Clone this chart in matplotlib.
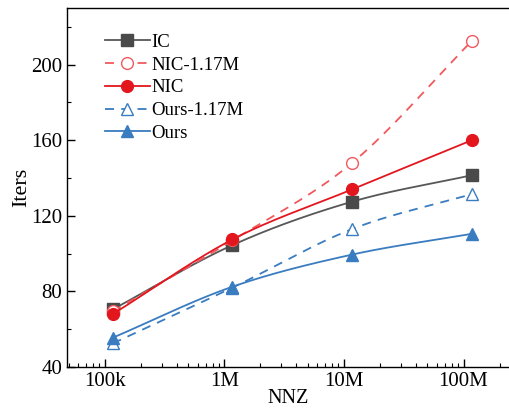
import matplotlib
matplotlib.use('Agg')
import matplotlib.pyplot as plt
import numpy as np
from matplotlib.ticker import FixedLocator, LogLocator, NullFormatter

plt.rcParams['font.family'] = ['Liberation Serif', 'DejaVu Serif']
plt.rcParams['font.size'] = 14

nnz = [1.17e5, 1.17e6, 1.17e7, 1.17e8]
xtick_vals = [1e5, 1e6, 1e7, 1e8]
xtick_labels = ['100k', '1M', '10M', '100M']

ic = [70.5, 104.5, 127.5, 141.5]
nic_117 = [69.5, 107.0, 148.0, 212.5]
nic = [68.0, 107.5, 134.0, 160.0]
ours_117 = [52.5, 82.0, 113.0, 131.5]
ours = [55.5, 82.5, 99.5, 110.5]


def smooth(x, y, n=60):
    # cubic hermite curve through the points, in log-x space
    lx = np.log10(x)
    y = np.asarray(y, float)
    m = np.gradient(y, lx)
    xs, ys = [], []
    for i in range(len(lx) - 1):
        h = lx[i + 1] - lx[i]
        t = np.linspace(0, 1, n)
        h00 = 2 * t**3 - 3 * t**2 + 1
        h10 = t**3 - 2 * t**2 + t
        h01 = -2 * t**3 + 3 * t**2
        h11 = t**3 - t**2
        xs.append(lx[i] + t * h)
        ys.append(h00 * y[i] + h10 * h * m[i] + h01 * y[i + 1] + h11 * h * m[i + 1])
    return 10 ** np.concatenate(xs), np.concatenate(ys)


fig = plt.figure(figsize=(5.09, 4.11), dpi=100)
ax = fig.add_axes([0.1316, 0.107, 0.8684, 0.8735])

series = [
    ('IC', ic, '#575757', '-', 's', '#4a4a4a', True),
    ('NIC-1.17M', nic_117, '#f05a5e', (0, (5, 4)), 'o', '#f05a5e', False),
    ('NIC', nic, '#e3161e', '-', 'o', '#e3161e', True),
    ('Ours-1.17M', ours_117, '#3a7cc0', (0, (5, 4)), '^', '#3a7cc0', False),
    ('Ours', ours, '#3a7cc0', '-', '^', '#3a7cc0', True),
]

for label, vals, col, ls, mk, mcol, filled in series:
    sx, sy = smooth(nnz, vals)
    ax.plot(sx, sy, color=col, ls=ls, lw=1.3)
    ax.plot(nnz, vals, ls='none', marker=mk, ms=8.5,
            mfc=mcol if filled else 'white', mec=mcol, mew=1.0)
    ax.plot([], [], color=col, ls=ls, lw=1.3, marker=mk, ms=8.5,
            mfc=mcol if filled else 'white', mec=mcol, mew=1.0, label=label)

ax.set_xscale('log')
ax.set_xlim(4.85e4, 2.4e8)
ax.set_ylim(40, 230)
ax.xaxis.set_major_locator(FixedLocator(xtick_vals))
ax.set_xticklabels(xtick_labels)
ax.xaxis.set_minor_locator(LogLocator(base=10, subs=np.arange(2, 10)))
ax.xaxis.set_minor_formatter(NullFormatter())
ax.set_yticks([40, 80, 120, 160, 200])
ax.set_yticks(np.arange(60, 230, 40), minor=True)

ax.tick_params(which='both', direction='in', top=False, right=False)
ax.tick_params(which='major', length=6, width=1, labelsize=15)
ax.tick_params(which='minor', length=3, width=0.8)
ax.spines['right'].set_visible(False)
for s in ['left', 'bottom', 'top']:
    ax.spines[s].set_linewidth(1.0)

ax.set_xlabel('NNZ', fontsize=14.5, labelpad=-1)
ax.set_ylabel('Iters', fontsize=16, labelpad=0)

ax.legend(loc='upper left', bbox_to_anchor=(0.068, 0.949), frameon=False,
          fontsize=13.5, handlelength=2.4, handletextpad=0.1, labelspacing=0.3,
          borderaxespad=0)

fig.savefig('out.png', dpi=100)
